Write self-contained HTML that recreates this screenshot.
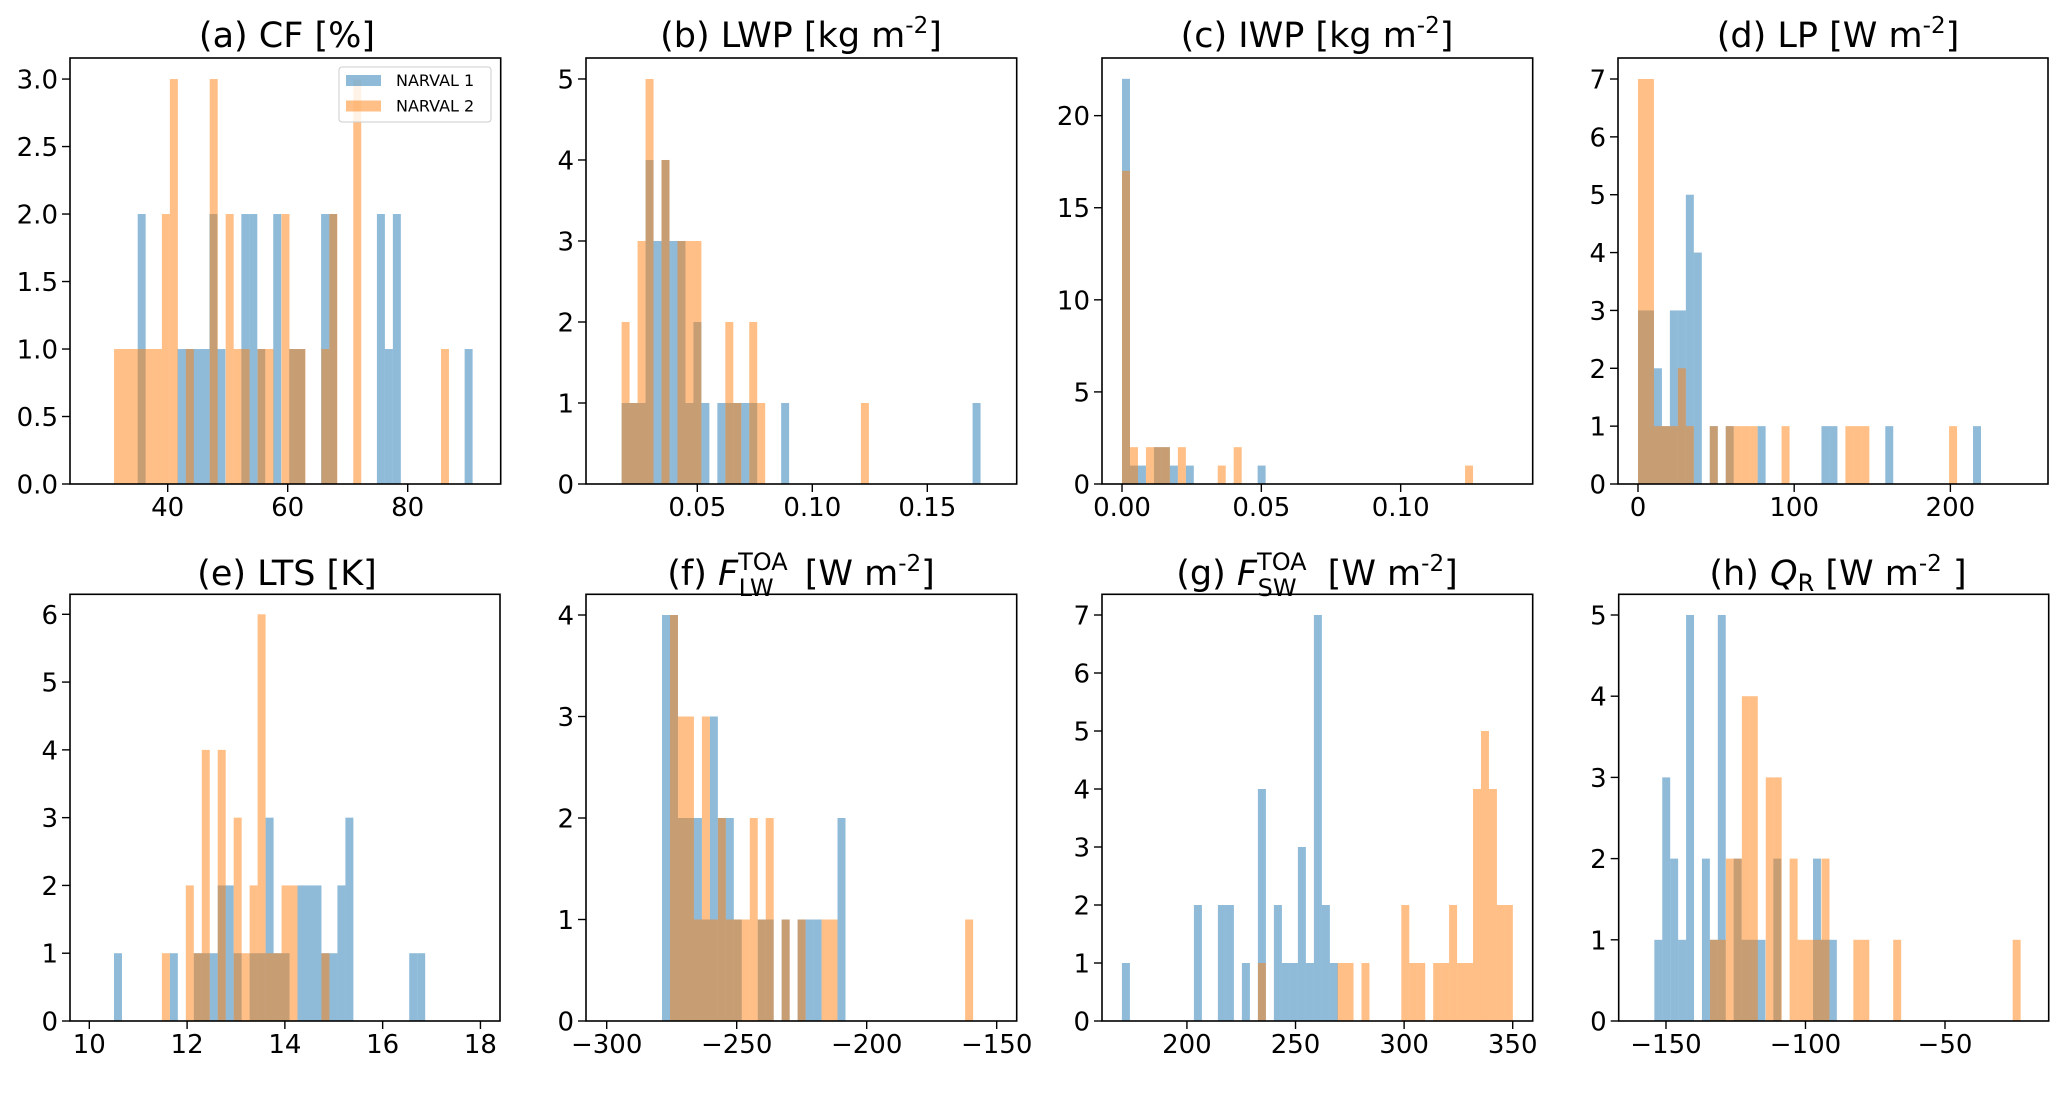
<!DOCTYPE html>
<html><head><meta charset="utf-8">
<style>
html,body{margin:0;padding:0;background:#fff;}
svg{display:block;font-family:"DejaVu Sans","Liberation Sans",sans-serif;}
</style></head>
<body>
<svg id="fig" width="2067" height="1094" viewBox="0 0 2067 1094" xmlns="http://www.w3.org/2000/svg">
<rect width="2067" height="1094" fill="#fff"/>
</svg>
<script>
// ---- data: per panel, per series: bin start, bin width, counts ----
const aBlueStart = 35.0, aBlueWidth = 1.329;
const aBlueCounts = [2,0,0,0,0,1,1,1,1,2,1,0,0,2,2,1,0,2,0,1,1,0,0,2,2,0,0,0,0,0,2,1,2,0,0,0,0,0,0,0,0,1];
const aOrangeStart = 31.06, aOrangeWidth = 1.329;
const aOrangeCounts = [1,1,1,1,1,1,2,3,0,1,0,0,3,0,2,1,1,0,1,1,0,2,1,1,0,0,1,2,0,0,3,0,0,0,0,0,0,0,0,0,0,1];

const bBlueStart = 0.0171, bBlueWidth = 0.003468;
const bBlueCounts = [1,1,1,4,3,4,3,3,1,2,1,0,1,1,1,1,1,0,0,0,1,0,0,0,0,0,0,0,0,0,0,0,0,0,0,0,0,0,0,0,0,0,0,0,1];
const bOrangeStart = 0.0171, bOrangeWidth = 0.003468;
const bOrangeCounts = [2,1,3,5,0,4,0,3,3,3,0,0,0,2,1,0,2,1,0,0,0,0,0,0,0,0,0,0,0,0,1];

const cBlueStart = 0.0, cBlueWidth = 0.002863;
const cBlueCounts = [22,1,1,0,2,2,1,0,1,0,0,0,0,0,0,0,0,1];
const cOrangeStart = 0.0, cOrangeWidth = 0.002863;
const cOrangeCounts = [17,2,0,2,2,2,0,2,0,0,0,0,1,0,2,0,0,0,0,0,0,0,0,0,0,0,0,0,0,0,0,0,0,0,0,0,0,0,0,0,0,0,0,1];

const dBlueStart = 0.0, dBlueWidth = 5.107;
const dBlueCounts = [3,3,2,1,3,3,5,4,0,1,0,1,0,0,0,1,0,0,0,0,0,0,0,1,1,0,0,0,0,0,0,1,0,0,0,0,0,0,0,0,0,0,1];
const dOrangeStart = 0.0, dOrangeWidth = 5.107;
const dOrangeCounts = [7,7,1,1,1,2,1,0,0,1,0,1,1,1,1,0,0,0,1,0,0,0,0,0,0,0,1,1,1,0,0,0,0,0,0,0,0,0,0,1];

const eBlueStart = 10.505, eBlueWidth = 0.1632;
const eBlueCounts = [1,0,0,0,0,0,0,1,0,0,1,1,1,2,2,1,0,1,1,3,1,1,0,2,2,2,1,1,2,3,0,0,0,0,0,0,0,1,1];
const eOrangeStart = 10.505, eOrangeWidth = 0.1632;
const eOrangeCounts = [0,0,0,0,0,0,1,0,0,2,1,4,0,4,0,3,1,2,6,1,1,2,2,0,0,0,1];

const fBlueStart = -278.72, fBlueWidth = 3.068;
const fBlueCounts = [4,4,2,2,2,1,3,2,2,1,0,0,1,1,0,1,0,1,1,1,0,0,2];
const fOrangeStart = -278.72, fOrangeWidth = 3.068;
const fOrangeCounts = [0,4,3,3,1,3,1,2,1,1,1,2,1,2,0,1,0,1,0,0,1,1,0,0,0,0,0,0,0,0,0,0,0,0,0,0,0,0,1];

const gBlueStart = 170.07, gBlueWidth = 3.683;
const gBlueCounts = [1,0,0,0,0,0,0,0,0,2,0,0,2,2,0,1,0,4,0,2,1,1,3,1,7,2,1];
const gOrangeStart = 232.69, gOrangeWidth = 3.668;
const gOrangeCounts = [1,0,0,0,0,0,0,0,0,0,1,1,0,1,0,0,0,0,2,1,1,0,1,1,2,1,1,4,5,4,2,2];

const hBlueStart = -154.18, hBlueWidth = 2.844;
const hBlueCounts = [1,3,2,1,5,0,2,1,5,0,2,1,1,1,0,2,0,0,0,0,2,1,1];
const hOrangeStart = -134.23, hOrangeWidth = 2.855;
const hOrangeCounts = [1,1,2,2,4,4,0,3,3,0,2,1,1,1,2,0,0,0,1,1,0,0,0,1,0,0,0,0,0,0,0,0,0,0,0,0,0,0,1];

// tick values
const aXTicks = [40,60,80];           const aYTicks = [0,0.5,1,1.5,2,2.5,3];
const bXTicks = [0.05,0.10,0.15];     const bYTicks = [0,1,2,3,4,5];
const cXTicks = [0,0.05,0.10];        const cYTicks = [0,5,10,15,20];
const dXTicks = [0,100,200];          const dYTicks = [0,1,2,3,4,5,6,7];
const eXTicks = [10,12,14,16,18];     const eYTicks = [0,1,2,3,4,5,6];
const fXTicks = [-300,-250,-200,-150];const fYTicks = [0,1,2,3,4];
const gXTicks = [200,250,300,350];    const gYTicks = [0,1,2,3,4,5,6,7];
const hXTicks = [-150,-100,-50];      const hYTicks = [0,1,2,3,4,5];

const NS = "http://www.w3.org/2000/svg";
const svg = document.getElementById('fig');
function mk(tag, attrs, parent){
  const el = document.createElementNS(NS, tag);
  for (const k in attrs) el.setAttribute(k, attrs[k]);
  (parent||svg).appendChild(el);
  return el;
}
function fmt(v, dec){
  const s = v.toFixed(dec);
  return s.replace('-', '\u2212');
}

const panels = [
  {id:'a', box:[70,58,500.7,484], x:[23.72,95.5], y:[0,3.156], xt:aXTicks, yt:aYTicks, xd:0, yd:1,
   series:[[aBlueStart,aBlueWidth,aBlueCounts],[aOrangeStart,aOrangeWidth,aOrangeCounts]]},
  {id:'b', box:[586,58,1016.7,484], x:[0.00161,0.18887], y:[0,5.259], xt:bXTicks, yt:bYTicks, xd:2, yd:0,
   series:[[bBlueStart,bBlueWidth,bBlueCounts],[bOrangeStart,bOrangeWidth,bOrangeCounts]]},
  {id:'c', box:[1102,58,1532.7,484], x:[-0.00718,0.14738], y:[0,23.13], xt:cXTicks, yt:cYTicks, xd:2, yd:0,
   series:[[cBlueStart,cBlueWidth,cBlueCounts],[cOrangeStart,cOrangeWidth,cOrangeCounts]]},
  {id:'d', box:[1618,58,2048,484], x:[-12.8,262.5], y:[0,7.363], xt:dXTicks, yt:dYTicks, xd:0, yd:0,
   series:[[dBlueStart,dBlueWidth,dBlueCounts],[dOrangeStart,dOrangeWidth,dOrangeCounts]]},
  {id:'e', box:[70,594.3,500,1021], x:[9.605,18.40], y:[0,6.295], xt:eXTicks, yt:eYTicks, xd:0, yd:0,
   series:[[eBlueStart,eBlueWidth,eBlueCounts],[eOrangeStart,eOrangeWidth,eOrangeCounts]]},
  {id:'f', box:[586,594.3,1016.7,1021], x:[-307.96,-142.3], y:[0,4.204], xt:fXTicks, yt:fYTicks, xd:0, yd:0,
   series:[[fBlueStart,fBlueWidth,fBlueCounts],[fOrangeStart,fOrangeWidth,fOrangeCounts]]},
  {id:'g', box:[1102,594.3,1532.7,1021], x:[160.9,359.2], y:[0,7.357], xt:gXTicks, yt:gYTicks, xd:0, yd:0,
   series:[[gBlueStart,gBlueWidth,gBlueCounts],[gOrangeStart,gOrangeWidth,gOrangeCounts]]},
  {id:'h', box:[1618.7,594.3,2048.7,1021], x:[-166.95,-12.83], y:[0,5.255], xt:hXTicks, yt:hYTicks, xd:0, yd:0,
   series:[[hBlueStart,hBlueWidth,hBlueCounts],[hOrangeStart,hOrangeWidth,hOrangeCounts]]}
];
const colors = ['#1f77b4','#ff7f0e'];
const seriesNames = ['narval-1','narval-2'];

panels.forEach(p => {
  const [x0,y0,x1,y1] = p.box;
  const sx = v => x0 + (v - p.x[0]) / (p.x[1]-p.x[0]) * (x1-x0);
  const sy = v => y1 - (v - p.y[0]) / (p.y[1]-p.y[0]) * (y1-y0);
  const g = mk('g', {});
  
  
  p.series.forEach((s, si) => {
    const [start, w, counts] = s;
    counts.forEach((c, i) => {
      if (!c) return;
      const xa = sx(start + i*w), xb = sx(start + (i+1)*w);
      const r = mk('rect', {x:xa, y:sy(c), width:xb-xa, height:sy(0)-sy(c), fill:colors[si], 'fill-opacity':0.5}, g);
      
      
    });
  });
  const frame = mk('rect', {x:x0, y:y0, width:x1-x0, height:y1-y0, fill:'none', stroke:'#000', 'stroke-width':1.6}, g);
  
  
  p.xt.forEach(v => {
    const x = sx(v);
    mk('line', {x1:x, x2:x, y1:y1, y2:y1+8, stroke:'#000', 'stroke-width':1.4}, g);
    const t = mk('text', {x:x, y:y1+32, 'font-size':26, 'text-anchor':'middle', fill:'#000'}, g);
    t.textContent = fmt(v, p.xd);
    
    
  });
  p.yt.forEach(v => {
    const y = sy(v);
    mk('line', {x1:x0-8, x2:x0, y1:y, y2:y, stroke:'#000', 'stroke-width':1.4}, g);
    const t = mk('text', {x:x0-12, y:y+9.5, 'font-size':26, 'text-anchor':'end', fill:'#000'}, g);
    t.textContent = fmt(v, p.yd);
    
    
  });
});
</script>
<svg style="position:absolute;left:0;top:0" width="2067" height="1094" xmlns="http://www.w3.org/2000/svg" font-family="DejaVu Sans, Liberation Sans, sans-serif" font-size="35">
  <g>
    <text x="287" y="47" text-anchor="middle">(a) CF [%]</text>
    <text x="801" y="47" text-anchor="middle">(b) LWP [kg m<tspan font-size="23" dy="-14">-2</tspan><tspan dy="14">]</tspan></text>
    <text x="1317" y="47" text-anchor="middle">(c) IWP [kg m<tspan font-size="23" dy="-14">-2</tspan><tspan dy="14">]</tspan></text>
    <text x="1838" y="47" text-anchor="middle">(d) LP [W m<tspan font-size="23" dy="-14">-2</tspan><tspan dy="14">]</tspan></text>
    <text x="287" y="585" text-anchor="middle">(e) LTS [K]</text>
    <text x="801" y="585" text-anchor="middle">(f) <tspan font-style="italic">F</tspan><tspan font-size="24" dy="-15">TOA</tspan><tspan font-size="24" dx="-49" dy="26">LW</tspan><tspan dx="20" dy="-11"> [W m</tspan><tspan font-size="23" dy="-14">-2</tspan><tspan dy="14">]</tspan></text>
    <text x="1317" y="585" text-anchor="middle">(g) <tspan font-style="italic">F</tspan><tspan font-size="24" dy="-15">TOA</tspan><tspan font-size="24" dx="-49" dy="26">SW</tspan><tspan dx="20" dy="-11"> [W m</tspan><tspan font-size="23" dy="-14">-2</tspan><tspan dy="14">]</tspan></text>
    <text x="1838" y="585" text-anchor="middle">(h) <tspan font-style="italic">Q</tspan><tspan font-size="24" dy="6">R</tspan><tspan dy="-6"> [W m</tspan><tspan font-size="23" dy="-14">-2</tspan><tspan dy="14"> ]</tspan></text>
  </g>
  <g>
    <rect x="339" y="67" width="152" height="55" rx="3" fill="#fff" fill-opacity="0.8" stroke="#cccccc" stroke-width="1"/>
    <rect x="346" y="75" width="35" height="11" fill="#1f77b4" fill-opacity="0.5"/>
    <rect x="346" y="100.5" width="35" height="11" fill="#ff7f0e" fill-opacity="0.5"/>
    <text x="396" y="86" font-size="16">NARVAL 1</text>
    <text x="396" y="111.5" font-size="16">NARVAL 2</text>
  </g>
</svg>
</body></html>
